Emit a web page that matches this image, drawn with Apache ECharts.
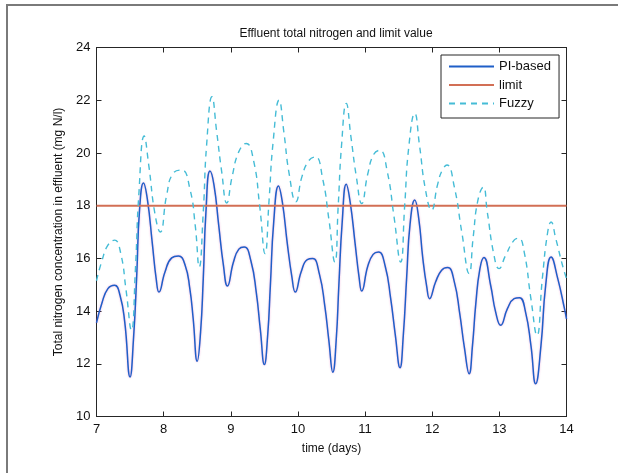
<!DOCTYPE html>
<html>
<head>
<meta charset="utf-8">
<script src="https://cdn.jsdelivr.net/npm/echarts@6/dist/echarts.min.js"></script>
<style>
  html, body { margin: 0; padding: 0; background: #fff; }
  #frame { position: absolute; left: 6px; top: 4px; width: 612px; height: 469px;
           border-left: 2px solid #7a7a7a; border-top: 2px solid #7a7a7a; }
  #chart { position: absolute; left: 0; top: 0; width: 618px; height: 473px; }
</style>
</head>
<body>
<div id="frame"></div>
<div id="chart"></div>
<script>
// time axis (days)
const xTicks = [7, 8, 9, 10, 11, 12, 13, 14];
const yTicks = [10, 12, 14, 16, 18, 20, 22, 24];

// PI-based controller
const piDays = [
    7.00, 7.08, 7.17, 7.27, 7.35, 7.42, 7.50, 7.55, 7.60, 7.64, 7.70, 7.76, 7.83, 7.89, 7.93,
    8.02, 8.12, 8.22, 8.32, 8.39, 8.44, 8.50, 8.55, 8.59, 8.63, 8.69, 8.75, 8.82, 8.89, 8.95,
    9.04, 9.12, 9.20, 9.30, 9.38, 9.44, 9.50, 9.55, 9.59, 9.64, 9.71, 9.77, 9.84, 9.91, 9.96,
    10.05, 10.14, 10.22, 10.32, 10.40, 10.46, 10.52, 10.57, 10.61, 10.66, 10.72, 10.78, 10.85, 10.91, 10.95,
    11.04, 11.12, 11.20, 11.30, 11.38, 11.45, 11.52, 11.57, 11.62, 11.67, 11.74, 11.80, 11.86, 11.92, 11.96,
    12.05, 12.14, 12.23, 12.33, 12.41, 12.48, 12.55, 12.60, 12.65, 12.71, 12.77, 12.87, 12.945, 13.02,
    13.12, 13.22, 13.30, 13.39, 13.47, 13.54, 13.62, 13.69, 13.77, 13.87, 13.97, 14.00
];
const piValues = [
    13.55, 14.3, 14.85, 14.98, 14.6, 13.6, 11.5, 12.9, 15.4, 17.8, 18.86, 18.2, 16.6, 15.2, 14.72,
    15.48, 16.02, 16.09, 15.74, 14.85, 13.71, 12.1, 13.2, 15.23, 17.76, 19.31, 18.78, 17.26, 15.74, 14.95,
    15.86, 16.35, 16.43, 15.9, 14.7, 13.3, 11.97, 13.1, 15.0, 17.4, 18.75, 18.1, 16.6, 15.3, 14.72,
    15.5, 15.95, 15.99, 15.4, 14.2, 12.9, 11.68, 12.9, 15.0, 17.4, 18.81, 18.1, 16.6, 15.3, 14.76,
    15.7, 16.15, 16.24, 15.7, 14.5, 13.1, 11.85, 13.1, 15.3, 17.3, 18.21, 17.5, 16.0, 14.9, 14.47,
    15.1, 15.55, 15.65, 15.1, 13.9, 12.6, 11.62, 12.7, 14.3, 15.6, 16.03, 14.98, 13.96, 13.46,
    14.09, 14.47, 14.51, 13.96, 12.7, 11.24, 12.7, 14.98, 16.05, 15.23, 14.09, 13.7
];

// effluent limit
const limitDays = [7, 14];
const limitValues = [18, 18];

// fuzzy controller
const fuzzyDays = [
    7.00, 7.08, 7.17, 7.27, 7.36, 7.44, 7.52, 7.58, 7.63, 7.71, 7.78, 7.87, 7.95,
    8.045, 8.14, 8.27, 8.39, 8.47, 8.53, 8.59, 8.64, 8.72, 8.79, 8.865, 8.94,
    9.02, 9.12, 9.23, 9.34, 9.43, 9.51, 9.57, 9.63, 9.72, 9.79, 9.87, 9.97,
    10.06, 10.16, 10.26, 10.37, 10.46, 10.55, 10.60, 10.65, 10.72, 10.79, 10.87, 10.95,
    11.04, 11.13, 11.22, 11.33, 11.43, 11.53, 11.59, 11.65, 11.74, 11.81, 11.90, 11.99,
    12.08, 12.15, 12.22, 12.33, 12.44, 12.55, 12.61, 12.68, 12.76, 12.82, 12.92, 12.995,
    13.094, 13.22, 13.29, 13.37, 13.47, 13.56, 13.64, 13.72, 13.77, 13.84, 13.94, 14.00
];
const fuzzyValues = [
    15.15, 15.9, 16.5, 16.69, 16.2, 14.8, 13.27, 15.6, 18.4, 20.64, 19.5, 17.7, 17.0,
    18.4, 19.22, 19.35, 18.65, 17.26, 15.67, 17.76, 20.3, 22.13, 20.8, 19.28, 18.1,
    19.1, 20.05, 20.36, 19.7, 18.0, 16.18, 18.2, 20.4, 22.0, 20.8, 19.2, 18.15,
    19.1, 19.7, 19.85, 19.0, 17.5, 15.86, 18.0, 20.3, 21.88, 20.6, 19.1, 18.08,
    19.2, 19.95, 20.1, 19.3, 17.6, 15.86, 18.0, 20.2, 21.5, 20.3, 18.6, 17.83,
    18.8, 19.35, 19.54, 18.7, 17.0, 15.42, 16.8, 18.2, 18.7, 17.76, 16.12, 15.61,
    16.12, 16.69, 16.76, 16.24, 14.47, 13.08, 15.23, 17.0, 17.38, 16.75, 15.74, 15.23
];

const pairs = (xs, ys) => xs.map((x, i) => [x, ys[i]]);

const chart = echarts.init(document.getElementById('chart'));
const font = 'Liberation Sans, Arial, sans-serif';
const axisColor = '#262626';

const option = {
    backgroundColor: 'transparent',
    animation: false,
    textStyle: { fontFamily: font },
    title: {
        text: 'Effluent total nitrogen and limit value',
        left: 331, top: 23, textAlign: 'center',
        textStyle: { fontSize: 12, fontWeight: 'normal', color: '#111', fontFamily: font }
    },
    grid: { left: 96.5, right: 51.5, top: 47.5, bottom: 56.5, containLabel: false },
    legend: {
        orient: 'vertical',
        left: 441, top: 55,
        padding: [5, 8, 8, 7],
        itemWidth: 45, itemHeight: 14, itemGap: 5.5,
        backgroundColor: '#fff',
        borderColor: axisColor, borderWidth: 1,
        itemStyle: { opacity: 0 },
        textStyle: { fontSize: 13, color: '#111', fontFamily: font },
        data: ['PI-based', 'limit', 'Fuzzy']
    },
    xAxis: [{
        type: 'value', min: 7, max: 14, interval: 1,
        name: 'time (days)', nameLocation: 'middle', nameGap: 26,
        nameTextStyle: { fontSize: 12, color: '#111', fontFamily: font },
        axisLine: { show: true, lineStyle: { color: axisColor, width: 1 } },
        axisTick: { show: true, inside: true, length: 5, lineStyle: { color: axisColor } },
        axisLabel: { fontSize: 13, color: '#111', margin: 6, fontFamily: font,
                     customValues: xTicks },
        splitLine: { show: false }
    }, {
        type: 'value', min: 7, max: 14, interval: 1, position: 'top',
        axisLine: { show: true, lineStyle: { color: axisColor, width: 1 } },
        axisTick: { show: true, inside: true, length: 5, lineStyle: { color: axisColor } },
        axisLabel: { show: false },
        splitLine: { show: false }
    }],
    yAxis: [{
        type: 'value', min: 10, max: 24, interval: 2,
        name: 'Total nitrogen concentration in effluent (mg N/l)',
        nameLocation: 'middle', nameGap: 29,
        nameTextStyle: { fontSize: 12, color: '#111', fontFamily: font },
        axisLine: { show: true, lineStyle: { color: axisColor, width: 1 } },
        axisTick: { show: true, inside: true, length: 5, lineStyle: { color: axisColor } },
        axisLabel: { fontSize: 13, color: '#111', margin: 6, fontFamily: font,
                     customValues: yTicks },
        splitLine: { show: false }
    }, {
        type: 'value', min: 10, max: 24, interval: 2, position: 'right',
        axisLine: { show: true, lineStyle: { color: axisColor, width: 1 } },
        axisTick: { show: true, inside: true, length: 5, lineStyle: { color: axisColor } },
        axisLabel: { show: false },
        splitLine: { show: false }
    }],
    series: [{
        name: 'PI-based', type: 'line',
        data: pairs(piDays, piValues),
        symbol: 'none', smooth: 0.5,
        color: '#1f5fc8',
        lineStyle: { width: 1.5, color: '#1f5fc8',
                     shadowColor: 'rgba(220, 70, 170, 0.45)', shadowBlur: 2 }
    }, {
        name: 'limit', type: 'line',
        data: pairs(limitDays, limitValues),
        symbol: 'none',
        color: '#d26f55',
        lineStyle: { width: 2, color: '#d26f55' }
    }, {
        name: 'Fuzzy', type: 'line',
        data: pairs(fuzzyDays, fuzzyValues),
        symbol: 'none', smooth: 0.5,
        color: '#45bcd6',
        lineStyle: { width: 1.4, color: '#45bcd6', type: [6, 5] }
    }]
};

chart.setOption(option);
</script>
</body>
</html>
